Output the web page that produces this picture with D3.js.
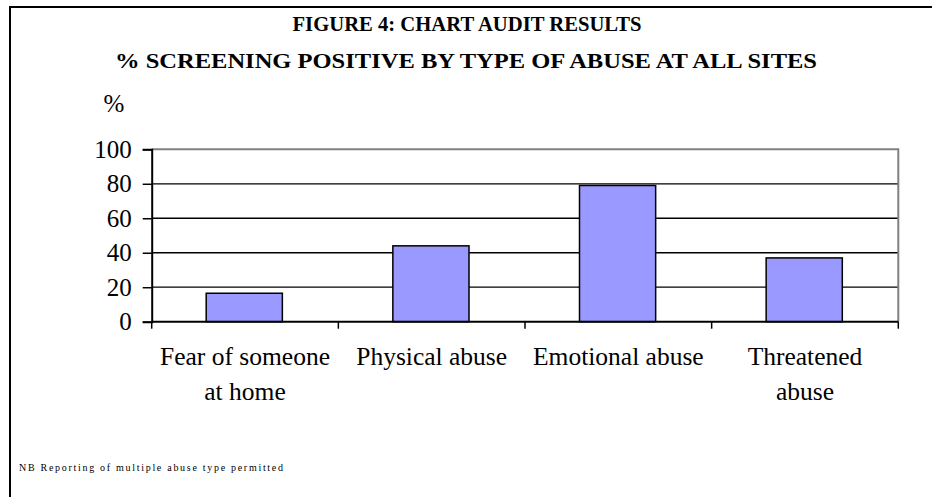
<!DOCTYPE html>
<html>
<head>
<meta charset="utf-8">
<script src="https://cdn.jsdelivr.net/npm/d3@7"></script>
<style>
  html, body { margin: 0; padding: 0; background: #fff; }
  svg { display: block; }
</style>
</head>
<body>
<svg id="chart" width="932" height="497"></svg>
<script>
// ---- data ----
const categories = ["Fear of someone at home", "Physical abuse", "Emotional abuse", "Threatened abuse"];
const categoryLabelLines = [["Fear of someone", "at home"], ["Physical abuse"], ["Emotional abuse"], ["Threatened", "abuse"]];
const values = [16.5, 44, 79, 37];
const yTicks = [0, 20, 40, 60, 80, 100];
const titleLines = ["FIGURE 4: CHART AUDIT RESULTS", "% SCREENING POSITIVE BY TYPE OF ABUSE AT ALL SITES"];
const yAxisTitle = "%";
const footnote = "NB Reporting of multiple abuse type permitted";

// ---- layout ----
const FONT = "'Liberation Serif', 'DejaVu Serif', serif";
const svg = d3.select("#chart");
const W = 932, H = 497;
const plot = { left: 151.7, right: 898.3, top: 149.3, bottom: 321.7 };

svg.append("rect").attr("width", W).attr("height", H).attr("fill", "#fff");

// outer frame (top and left edges visible)
svg.append("path")
  .attr("d", `M10,${H} L10,7 L${W},7`)
  .attr("fill", "none").attr("stroke", "#000").attr("stroke-width", 2);

// titles
const titleX = 467;
svg.append("text").attr("x", titleX).attr("y", 31)
  .style("font-family", FONT)
  .attr("text-anchor", "middle").attr("font-weight", "bold").attr("font-size", 21)
  .attr("textLength", 349).attr("lengthAdjust", "spacingAndGlyphs")
  .text(titleLines[0]);
svg.append("text").attr("x", titleX - 1).attr("y", 68)
  .style("font-family", FONT)
  .attr("text-anchor", "middle").attr("font-weight", "bold").attr("font-size", 21)
  .attr("textLength", 702).attr("lengthAdjust", "spacingAndGlyphs")
  .text(titleLines[1]);

// scales
const x = d3.scaleBand().domain(categories).range([plot.left, plot.right]).padding(0);
const y = d3.scaleLinear().domain([0, 100]).range([plot.bottom, plot.top]);

// gridlines (black) for inner ticks
svg.append("g").selectAll("line")
  .data(yTicks.filter(v => v > 0 && v < 100))
  .join("line")
  .attr("x1", plot.left).attr("x2", plot.right)
  .attr("y1", d => y(d)).attr("y2", d => y(d))
  .attr("stroke", "#000").attr("stroke-width", 1.3);

// plot area border top & right (gray)
svg.append("path")
  .attr("d", `M${plot.left},${y(100)} L${plot.right},${y(100)} L${plot.right},${plot.bottom}`)
  .attr("fill", "none").attr("stroke", "#808080").attr("stroke-width", 2);

// bars
const bw = x.bandwidth();
svg.append("g").selectAll("rect")
  .data(categories)
  .join("rect")
  .attr("x", d => x(d) + bw * 0.292)
  .attr("width", bw * 0.408)
  .attr("y", (d, i) => y(values[i]))
  .attr("height", (d, i) => y(0) - y(values[i]))
  .attr("fill", "#9999FF")
  .attr("stroke", "#000").attr("stroke-width", 1.5);

// y axis
const yAxis = svg.append("g")
  .attr("transform", `translate(${plot.left},0)`)
  .call(d3.axisLeft(y).tickValues(yTicks).tickSize(9).tickPadding(11).tickFormat(d3.format("d")));
yAxis.attr("font-family", null).attr("font-size", null);
yAxis.select(".domain").attr("stroke", "#000").attr("stroke-width", 2);
yAxis.selectAll(".tick line").attr("stroke", "#000").attr("stroke-width", 1.5);
yAxis.selectAll(".tick text")
  .style("font-family", FONT)
  .style("font-size", "25px").attr("fill", "#000");

// x axis line
svg.append("line")
  .attr("x1", plot.left).attr("x2", plot.right)
  .attr("y1", y(0)).attr("y2", y(0))
  .attr("stroke", "#000").attr("stroke-width", 2);

// x ticks at band boundaries
const boundaries = categories.map(c => x(c)).concat([x(categories[categories.length - 1]) + bw]);
svg.append("g").selectAll("line")
  .data(boundaries)
  .join("line")
  .attr("x1", d => d).attr("x2", d => d)
  .attr("y1", y(0)).attr("y2", y(0) + 7)
  .attr("stroke", "#000").attr("stroke-width", 1.5);

// x category labels
const lab = svg.append("g");
categories.forEach((c, i) => {
  const cx = x(c) + bw / 2;
  const t = lab.append("text")
    .style("font-family", FONT)
    .attr("text-anchor", "middle").attr("font-size", 25.5);
  categoryLabelLines[i].forEach((ln, j) => {
    t.append("tspan").attr("x", cx).attr("y", 365 + j * 35).text(ln);
  });
});

// y axis title
svg.append("text").attr("x", 114).attr("y", 112)
  .style("font-family", FONT)
  .attr("text-anchor", "middle").attr("font-size", 25)
  .text(yAxisTitle);

// footnote
svg.append("text").attr("x", 19).attr("y", 470.5)
  .style("font-family", FONT)
  .attr("font-size", 10)
  .attr("textLength", 264).attr("lengthAdjust", "spacing")
  .text(footnote);
</script>
</body>
</html>
